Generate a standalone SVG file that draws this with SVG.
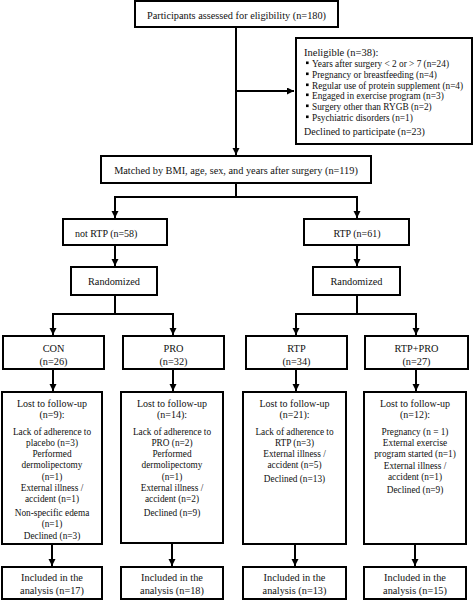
<svg xmlns="http://www.w3.org/2000/svg" width="474" height="601" viewBox="0 0 474 601">
<style>
.box{fill:#fff;stroke:#000;stroke-width:2}
.c{fill:none;stroke:#000;stroke-width:2}
text{font-family:"Liberation Serif","Times New Roman",serif;fill:#111;font-size:10.3px}
.m{text-anchor:middle}
.s{font-size:9.3px}
</style>
<defs>
<marker id="ah" markerUnits="userSpaceOnUse" markerWidth="8" markerHeight="8" refX="7" refY="3.5" orient="auto">
<path d="M0,0 L7,3.5 L0,7 z" fill="#000"/>
</marker>
</defs>
<rect width="474" height="601" fill="#fff"/>
<g id="connectors">
<path class="c" d="M236,27 V155" marker-end="url(#ah)"/>
<path class="c" d="M236,91 H294" marker-end="url(#ah)"/>
<path class="c" d="M236,183 V197 M114,197 H358"/>
<path class="c" d="M115,197 V218" marker-end="url(#ah)"/>
<path class="c" d="M357,197 V218" marker-end="url(#ah)"/>
<path class="c" d="M115,245 V266" marker-end="url(#ah)"/>
<path class="c" d="M357,245 V266" marker-end="url(#ah)"/>
<path class="c" d="M115,295 V314 M52,314 H174"/>
<path class="c" d="M53,314 V335" marker-end="url(#ah)"/>
<path class="c" d="M173,314 V335" marker-end="url(#ah)"/>
<path class="c" d="M357,295 V314 M295,314 H417"/>
<path class="c" d="M296,314 V335" marker-end="url(#ah)"/>
<path class="c" d="M416,314 V335" marker-end="url(#ah)"/>
<path class="c" d="M53,369 V391" marker-end="url(#ah)"/>
<path class="c" d="M173,369 V391" marker-end="url(#ah)"/>
<path class="c" d="M296,369 V391" marker-end="url(#ah)"/>
<path class="c" d="M416,369 V391" marker-end="url(#ah)"/>
<path class="c" d="M52,544 V566" marker-end="url(#ah)"/>
<path class="c" d="M172,544 V566" marker-end="url(#ah)"/>
<path class="c" d="M295,544 V566" marker-end="url(#ah)"/>
<path class="c" d="M415,544 V566" marker-end="url(#ah)"/>
</g>
<g id="assessed">
<rect class="box" x="135" y="1" width="203" height="26"/>
<text class="m" x="236.5" y="18.5">Participants assessed for eligibility (n=180)</text>
</g>
<g id="ineligible">
<rect class="box" x="296" y="38" width="176" height="106"/>
<text x="304" y="55.5" style="font-size:10.5px">Ineligible (n=38):</text>
<rect x="306" y="61.5" width="2.6" height="2.6"/>
<rect x="306" y="72.5" width="2.6" height="2.6"/>
<rect x="306" y="83.5" width="2.6" height="2.6"/>
<rect x="306" y="93.5" width="2.6" height="2.6"/>
<rect x="306" y="104.5" width="2.6" height="2.6"/>
<rect x="306" y="115.5" width="2.6" height="2.6"/>
<text class="s" x="312" y="66.5">Years after surgery &lt; 2 or &gt; 7 (n=24)</text>
<text class="s" x="312" y="77.5">Pregnancy or breastfeeding (n=4)</text>
<text class="s" x="312" y="88.5">Regular use of protein supplement (n=4)</text>
<text class="s" x="312" y="98.5">Engaged in exercise program (n=3)</text>
<text class="s" x="312" y="109.5">Surgery other than RYGB (n=2)</text>
<text class="s" x="312" y="120.5">Psychiatric disorders (n=1)</text>
<text x="304" y="134.5" style="font-size:10px">Declined to participate (n=23)</text>
</g>
<g id="matched">
<rect class="box" x="101" y="156" width="270" height="27"/>
<text class="m" x="236" y="173.5">Matched by BMI, age, sex, and years after surgery (n=119)</text>
</g>
<g id="notrtp">
<rect class="box" x="63" y="219" width="104" height="26"/>
<text x="75" y="236.5" style="font-size:10px">not RTP (n=58)</text>
</g>
<g id="rtp">
<rect class="box" x="304" y="219" width="105" height="26"/>
<text class="m" x="357" y="236.5" style="font-size:10px">RTP (n=61)</text>
</g>
<g id="rand-left">
<rect class="box" x="71" y="267" width="86" height="28"/>
<text class="m" x="114" y="284.5">Randomized</text>
</g>
<g id="rand-right">
<rect class="box" x="313" y="267" width="87" height="28"/>
<text class="m" x="356.5" y="284.5">Randomized</text>
</g>
<g id="con">
<rect class="box" x="3" y="336" width="101" height="33"/>
<text class="m" x="53.5" y="351.5">CON</text>
<text class="m" x="53.5" y="364.5">(n=26)</text>
</g>
<g id="pro">
<rect class="box" x="123" y="336" width="101" height="33"/>
<text class="m" x="173.5" y="351.5">PRO</text>
<text class="m" x="173.5" y="364.5">(n=32)</text>
</g>
<g id="rtpgroup">
<rect class="box" x="246" y="336" width="101" height="33"/>
<text class="m" x="296.5" y="351.5">RTP</text>
<text class="m" x="296.5" y="364.5">(n=34)</text>
</g>
<g id="rtppro">
<rect class="box" x="365" y="336" width="103" height="33"/>
<text class="m" x="416.5" y="351.5">RTP+PRO</text>
<text class="m" x="416.5" y="364.5">(n=27)</text>
</g>
<g id="lost-con">
<rect class="box" x="2" y="392" width="100" height="152"/>
<text class="m" x="52" y="406.5" style="font-size:10px">Lost to follow-up</text>
<text class="m" x="52" y="417.5" style="font-size:10px">(n=9):</text>
<text class="m s" x="52" y="434.5">Lack of adherence to</text>
<text class="m s" x="52" y="445.5">placebo (n=3)</text>
<text class="m s" x="52" y="456.5">Performed</text>
<text class="m s" x="52" y="467.5">dermolipectomy</text>
<text class="m s" x="52" y="479.5">(n=1)</text>
<text class="m s" x="52" y="490.5">External illness /</text>
<text class="m s" x="52" y="501.5">accident (n=1)</text>
<text class="m s" x="52" y="515.5">Non-specific edema</text>
<text class="m s" x="52" y="526.5">(n=1)</text>
<text class="m s" x="52" y="538.5">Declined (n=3)</text>
</g>
<g id="lost-pro">
<rect class="box" x="121" y="392" width="102" height="151"/>
<text class="m" x="172" y="406.5" style="font-size:10px">Lost to follow-up</text>
<text class="m" x="172" y="417.5" style="font-size:10px">(n=14):</text>
<text class="m s" x="172" y="434.5">Lack of adherence to</text>
<text class="m s" x="172" y="445.5">PRO (n=2)</text>
<text class="m s" x="172" y="456.5">Performed</text>
<text class="m s" x="172" y="467.5">dermolipectomy</text>
<text class="m s" x="172" y="479.5">(n=1)</text>
<text class="m s" x="172" y="490.5">External illness /</text>
<text class="m s" x="172" y="501.5">accident (n=2)</text>
<text class="m s" x="172" y="515.5">Declined (n=9)</text>
</g>
<g id="lost-rtp">
<rect class="box" x="243" y="392" width="103" height="152"/>
<text class="m" x="294.5" y="406.5" style="font-size:10px">Lost to follow-up</text>
<text class="m" x="294.5" y="417.5" style="font-size:10px">(n=21):</text>
<text class="m s" x="294.5" y="434.5">Lack of adherence to</text>
<text class="m s" x="294.5" y="445.5">RTP (n=3)</text>
<text class="m s" x="294.5" y="456.5">External illness /</text>
<text class="m s" x="294.5" y="467.5">accident (n=5)</text>
<text class="m s" x="294.5" y="481.5">Declined (n=13)</text>
</g>
<g id="lost-rtppro">
<rect class="box" x="364" y="392" width="102" height="152"/>
<text class="m" x="415" y="406.5" style="font-size:10px">Lost to follow-up</text>
<text class="m" x="415" y="417.5" style="font-size:10px">(n=12):</text>
<text class="m s" x="415" y="434.5">Pregnancy (n = 1)</text>
<text class="m s" x="415" y="445.5">External exercise</text>
<text class="m s" x="415" y="456.5">program started (n=1)</text>
<text class="m s" x="415" y="468.5">External illness /</text>
<text class="m s" x="415" y="479.5">accident (n=1)</text>
<text class="m s" x="415" y="492.5">Declined (n=9)</text>
</g>
<g id="incl-con">
<rect class="box" x="2" y="567" width="100" height="32"/>
<text class="m" x="52" y="580.5">Included in the</text>
<text class="m" x="52" y="593.5">analysis (n=17)</text>
</g>
<g id="incl-pro">
<rect class="box" x="121" y="567" width="102" height="32"/>
<text class="m" x="172" y="580.5">Included in the</text>
<text class="m" x="172" y="593.5">analysis (n=18)</text>
</g>
<g id="incl-rtp">
<rect class="box" x="243" y="567" width="103" height="32"/>
<text class="m" x="294.5" y="580.5">Included in the</text>
<text class="m" x="294.5" y="593.5">analysis (n=13)</text>
</g>
<g id="incl-rtppro">
<rect class="box" x="364" y="567" width="102" height="32"/>
<text class="m" x="415" y="580.5">Included in the</text>
<text class="m" x="415" y="593.5">analysis (n=15)</text>
</g>
</svg>
